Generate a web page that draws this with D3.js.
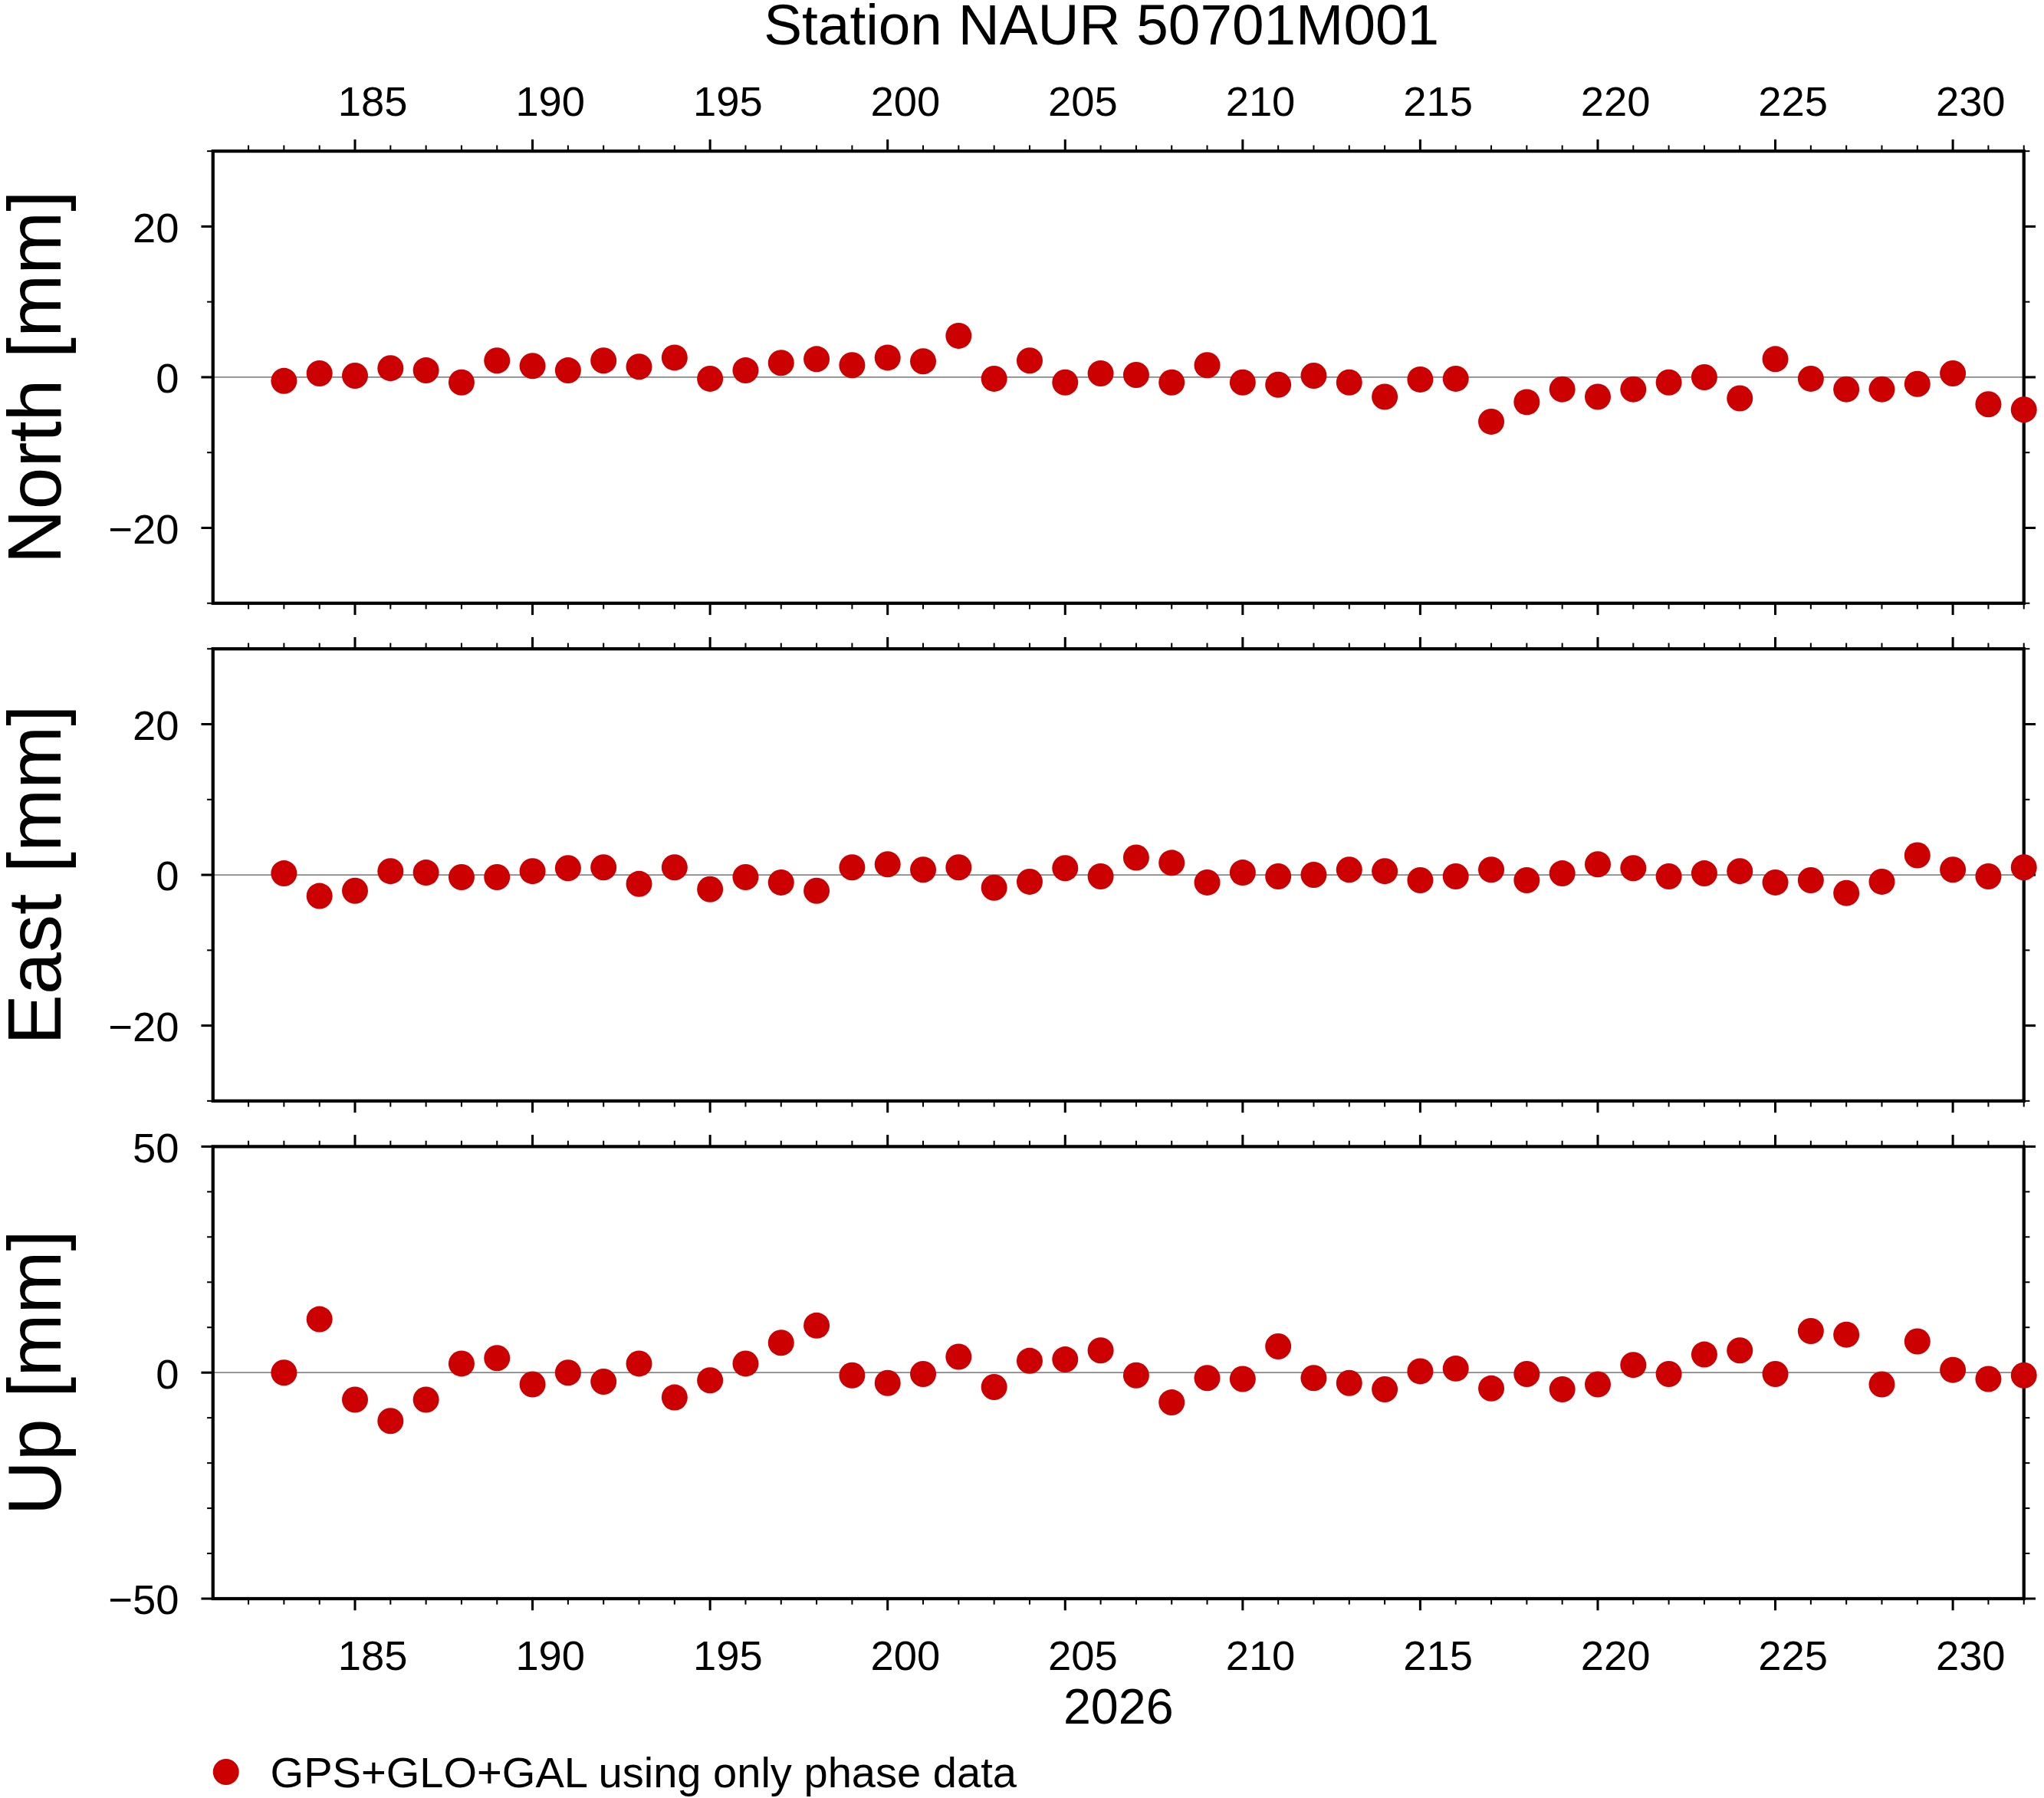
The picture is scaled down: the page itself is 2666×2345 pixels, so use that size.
<!DOCTYPE html>
<html><head><meta charset="utf-8">
<script src="https://cdn.jsdelivr.net/npm/d3@7"></script>
<style>body{margin:0;background:#fff}</style>
</head><body>
<script>
const days = d3.range(183, 233);
const north = [-0.5,0.5,0.2,1.2,0.9,-0.7,2.2,1.5,0.9,2.2,1.4,2.6,-0.2,0.9,1.9,2.4,1.6,2.6,2.1,5.5,
  -0.2,2.2,-0.7,0.5,0.3,-0.7,1.6,-0.7,-1.0,0.2,-0.7,-2.6,-0.3,-0.2,-5.9,-3.3,-1.6,-2.6,-1.6,-0.7,
  0,-2.8,2.4,-0.2,-1.6,-1.6,-0.9,0.5,-3.6,-4.3];
const east = [0.2,-2.8,-2.1,0.5,0.3,-0.3,-0.3,0.5,0.9,1.0,-1.2,1.0,-1.9,-0.3,-1.0,-2.1,1.0,1.4,0.7,1.0,
  -1.7,-0.9,0.9,-0.2,2.3,1.6,-1.0,0.3,-0.2,0,0.7,0.5,-0.7,-0.2,0.7,-0.7,0.2,1.4,0.9,-0.2,
  0.2,0.5,-1.0,-0.7,-2.4,-0.9,2.6,0.7,-0.2,1.0];
const up = [0,11.8,-6.0,-10.7,-6.0,2.0,3.2,-2.6,0,-2.0,2.0,-5.5,-1.7,2.0,6.6,10.4,-0.6,-2.3,-0.3,3.5,
  -3.2,2.6,2.9,4.9,-0.6,-6.6,-1.2,-1.4,5.8,-1.2,-2.3,-3.7,0.3,0.9,-3.5,-0.3,-3.7,-2.6,1.7,-0.3,
  4.0,4.9,-0.3,9.2,8.4,-2.6,6.9,0.6,-1.4,-0.6];
const xLabels = d3.range(185, 231, 5);

const panels = [
  { label: "North [mm]", values: north, domain: [-30, 30], major: [-20, 0, 20], minor: 10, top: 116 },
  { label: "East [mm]", values: east, domain: [-30, 30], major: [-20, 0, 20], minor: 10, top: 498 },
  { label: "Up [mm]", values: up, domain: [-50, 50], major: [-50, 0, 50], minor: 10, top: 880 }
];
const left = 163, right = 1553, ph = 347;
const font = "Liberation Sans, Arial, sans-serif";
const red = "#cc0000";

const svg = d3.select("body").append("svg")
  .attr("width", 2666).attr("height", 2345)
  .attr("viewBox", "0 0 1568 1380")
  .style("font-family", font);

const x = d3.scaleLinear().domain([181, 232]).range([left, right]);

svg.append("text").attr("x", 845).attr("y", 34).attr("text-anchor", "middle")
  .attr("font-size", 44).text("Station NAUR 50701M001");

panels.forEach((p, i) => {
  const y = d3.scaleLinear().domain(p.domain).range([p.top + ph, p.top]);
  const g = svg.append("g");

  // zero line
  g.append("line").attr("x1", left).attr("x2", right)
    .attr("y1", y(0)).attr("y2", y(0)).attr("stroke", "#888").attr("stroke-width", 1);

  // x ticks top & bottom, outward
  const xt = d3.range(182, 233);
  [[p.top, -1], [p.top + ph, 1]].forEach(([yy, dir]) => {
    g.selectAll(null).data(xt).join("line")
      .attr("x1", d => x(d)).attr("x2", d => x(d))
      .attr("y1", yy).attr("y2", d => yy + dir * (d % 5 === 0 ? 9 : 4.5))
      .attr("stroke", "#000").attr("stroke-width", d => d % 5 === 0 ? 1.8 : 1.2);
  });

  // y ticks left & right, outward
  const yt = d3.range(p.domain[0], p.domain[1] + 0.1, p.minor);
  [[left, -1], [right, 1]].forEach(([xx, dir]) => {
    g.selectAll(null).data(yt).join("line")
      .attr("y1", d => y(d)).attr("y2", d => y(d))
      .attr("x1", xx).attr("x2", d => xx + dir * (p.major.includes(d) ? 9 : 4.5))
      .attr("stroke", "#000").attr("stroke-width", d => p.major.includes(d) ? 1.8 : 1.2);
  });
  g.selectAll(null).data(p.major).join("text")
    .attr("x", left - 26).attr("y", d => y(d) + 12)
    .attr("text-anchor", "end").attr("font-size", 32)
    .text(d => d < 0 ? "\u2212" + Math.abs(d) : d);

  // frame
  g.append("rect").attr("x", left).attr("y", p.top).attr("width", right - left).attr("height", ph)
    .attr("fill", "none").attr("stroke", "#000").attr("stroke-width", 2.5);

  // y label
  g.append("text").attr("transform", `translate(46,${p.top + ph / 2}) rotate(-90)`)
    .attr("text-anchor", "middle").attr("font-size", 58).text(p.label);

  // points
  g.selectAll("circle").data(days).join("circle")
    .attr("cx", d => x(d)).attr("cy", (d, j) => y(p.values[j]))
    .attr("r", 10).attr("fill", red);
});

// x labels top and bottom
[[89], [1282]].forEach(([yy]) => {
  svg.selectAll(null).data(xLabels).join("text")
    .attr("x", d => x(d + 0.5)).attr("y", yy)
    .attr("text-anchor", "middle").attr("font-size", 32).text(d => d);
});
svg.append("text").attr("x", 858).attr("y", 1323).attr("text-anchor", "middle")
  .attr("font-size", 38).text("2026");

// legend
svg.append("circle").attr("cx", 173).attr("cy", 1360).attr("r", 10).attr("fill", red);
svg.append("text").attr("x", 207).attr("y", 1372).attr("font-size", 33)
  .text("GPS+GLO+GAL using only phase data");
</script>
</body></html>
